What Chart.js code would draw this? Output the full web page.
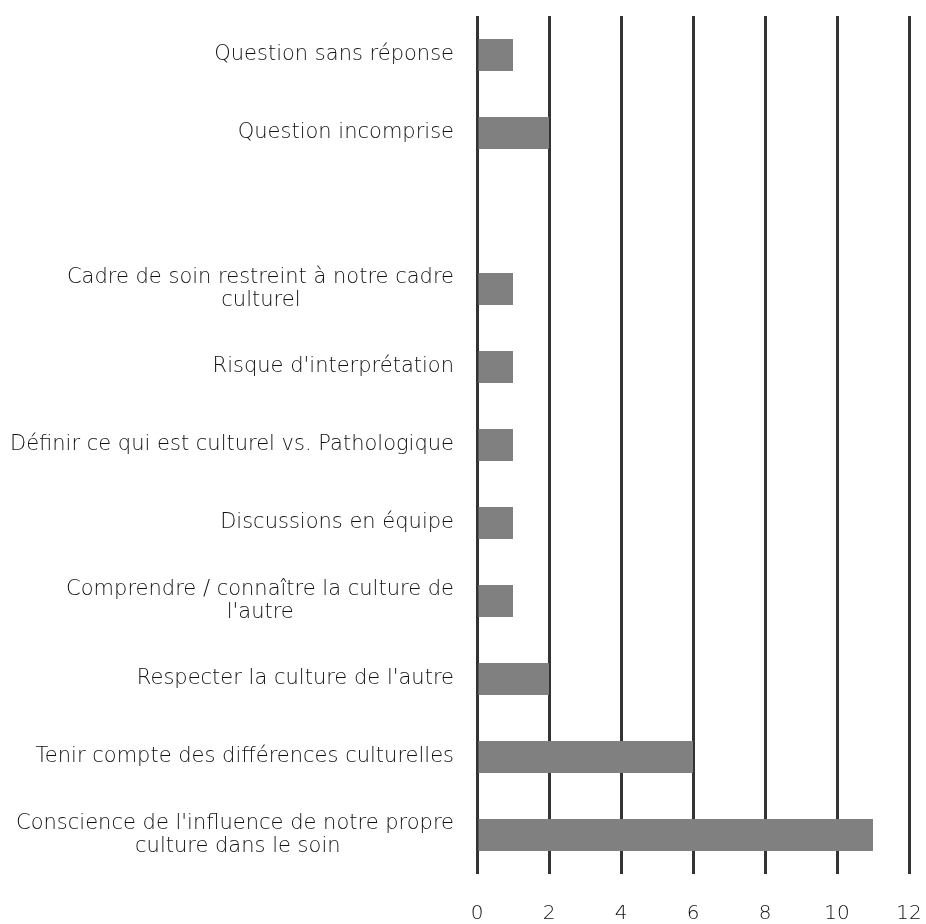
<!DOCTYPE html>
<html>
<head>
<meta charset="utf-8">
<script src="https://cdn.jsdelivr.net/npm/chart.js@4/dist/chart.umd.min.js"></script>
<style>
  html, body { margin: 0; padding: 0; background: #fff; }
  #wrap { width: 926px; height: 924px; }
</style>
</head>
<body>
<div id="wrap"><canvas id="myChart"></canvas></div>
<script>
// categories, top to bottom (one blank row in the original)
let categories = [
    'Question sans réponse',
    'Question incomprise',
    '',
    ['Cadre de soin restreint à notre cadre', 'culturel'],
    "Risque d'interprétation",
    'Définir ce qui est culturel vs. Pathologique',
    'Discussions en équipe',
    ['Comprendre / connaître la culture de', "l'autre"],
    "Respecter la culture de l'autre",
    'Tenir compte des différences culturelles',
    ["Conscience de l'influence de notre propre", 'culture dans le soin']
];
let counts = [1, 2, null, 1, 1, 1, 1, 1, 2, 6, 11];
let xTicks = [0, 2, 4, 6, 8, 10, 12];

let labelFont = { family: 'DejaVu Sans', size: 21, weight: 200, lineHeight: 1.12 };
let textColor = '#111111';

// the wrapped labels have their lines centred under each other,
// so pad the short line with trailing spaces
let measure = document.createElement('canvas').getContext('2d');
measure.font = '200 21px "DejaVu Sans"';
function centreLines(lbl) {
    if (!Array.isArray(lbl)) return lbl;
    let widest = Math.max(...lbl.map(l => measure.measureText(l).width));
    let sp = measure.measureText('\u00a0').width;
    return lbl.map(l => {
        let n = Math.round((widest - measure.measureText(l).width) / 2 / sp);
        return l + '\u00a0'.repeat(n);
    });
}

let ctx = document.getElementById('myChart').getContext('2d');
let barChart = new Chart(ctx, {
    type: 'bar',
    data: {
        labels: categories,
        datasets: [{
            data: counts,
            backgroundColor: '#808080',
            barPercentage: 0.41,
            categoryPercentage: 1
        }]
    },
    options: {
        indexAxis: 'y',
        responsive: true,
        maintainAspectRatio: false,
        animation: false,
        layout: { padding: { top: 16, right: 17, bottom: 2, left: 0 } },
        plugins: { legend: { display: false }, tooltip: { enabled: false } },
        scales: {
            x: {
                min: xTicks[0],
                max: xTicks[xTicks.length - 1],
                afterBuildTicks: s => { s.ticks = xTicks.map(v => ({ value: v })); },
                afterFit: s => { s.height = 48; s.paddingLeft = 0; s.paddingRight = 0; },
                grid: { color: '#333333', lineWidth: 3, drawTicks: false },
                border: { display: false },
                ticks: { color: textColor, padding: 28, font: { family: 'DejaVu Sans', size: 20, weight: 200 } }
            },
            y: {
                afterFit: s => { s.width = 477; s.paddingTop = 0; s.paddingBottom = 0; },
                grid: { display: false },
                border: { display: false },
                ticks: {
                    color: textColor,
                    padding: 15,
                    autoSkip: false,
                    font: labelFont,
                    callback: function (value) { return centreLines(this.getLabelForValue(value)); }
                }
            }
        }
    }
});
</script>
</body>
</html>
